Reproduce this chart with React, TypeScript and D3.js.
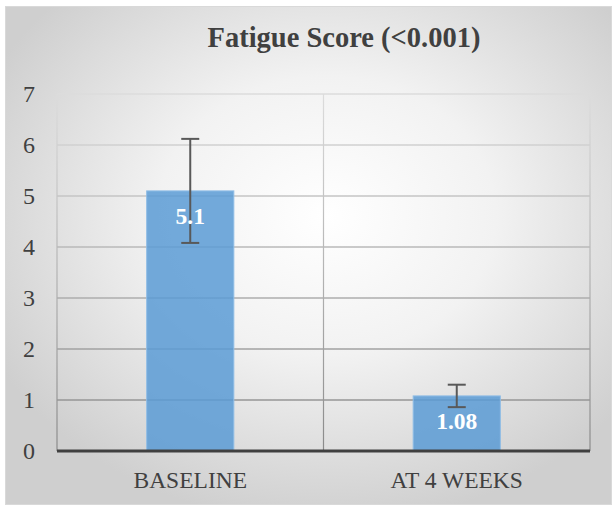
import React from "react";
import * as d3 from "d3";

const categories = ["BASELINE", "AT 4 WEEKS"];
const values = [5.1, 1.08];
const errors = [1.02, 0.22];
const valueLabels = ["5.1", "1.08"];
const yTicks = [0, 1, 2, 3, 4, 5, 6, 7];
const title = "Fatigue Score (<0.001)";

const W = 614;
const H = 506;
const M = { left: 57, right: 590, top: 94, bottom: 451 };
const font = "Liberation Serif, serif";

export default function App() {
  const x = d3.scaleBand<string>().domain(categories).range([M.left, M.right]).paddingInner(0).paddingOuter(0);
  const y = d3.scaleLinear().domain([0, 7]).range([M.bottom, M.top]);
  const bw = x.bandwidth() * 0.327;
  const ts = { fontFamily: font };

  return (
    <svg width={W} height={H} style={{ position: "absolute", left: 0, top: 0 }}>
      <defs>
        <radialGradient id="bg" cx="0.53" cy="0.42" r="0.62">
          <stop offset="0" stopColor="#ffffff" />
          <stop offset="0.45" stopColor="#f2f2f2" />
          <stop offset="1" stopColor="#cfcfcf" />
        </radialGradient>
        <linearGradient id="grid" gradientUnits="userSpaceOnUse" x1="0" y1={M.top} x2="0" y2={M.bottom}>
          <stop offset="0" stopColor="#dcdcdc" />
          <stop offset="1" stopColor="#8a8a8a" />
        </linearGradient>
      </defs>
      <rect x={0} y={0} width={W} height={H} fill="#ffffff" />
      <rect x={5.5} y={6.5} width={606} height={498} fill="url(#bg)" stroke="#d9d9d9" strokeWidth={1} />
      <text x={344} y={47} textAnchor="middle" fontSize={28.5} fontWeight="bold" fill="#404040" style={ts}>
        {title}
      </text>
      {yTicks.filter((t) => t > 0).map((t) => (
        <line key={t} x1={M.left} x2={M.right} y1={y(t)} y2={y(t)} stroke="url(#grid)" strokeWidth={1.5} />
      ))}
      {[M.left, (x(categories[1]) as number), M.right].map((xv, i) => (
        <line key={i} x1={xv} x2={xv} y1={M.top} y2={M.bottom} stroke="url(#grid)" strokeWidth={1.2} />
      ))}
      {categories.map((c, i) => {
        const cx = (x(c) as number) + x.bandwidth() / 2;
        return (
          <rect
            key={c}
            x={cx - bw / 2}
            y={y(values[i])}
            width={bw}
            height={y(0) - y(values[i])}
            fill="#5b9bd5"
            fillOpacity={0.85}
            stroke="#8fbde6"
            strokeWidth={1}
          />
        );
      })}
      <line x1={M.left} x2={M.right} y1={y(0)} y2={y(0)} stroke="#404040" strokeWidth={3} />
      {categories.map((c, i) => {
        const cx = (x(c) as number) + x.bandwidth() / 2;
        const t = y(values[i] + errors[i]);
        const b = y(values[i] - errors[i]);
        return (
          <g key={c} stroke="#595959" strokeWidth={2}>
            <line x1={cx} x2={cx} y1={t} y2={b} />
            <line x1={cx - 9} x2={cx + 9} y1={t} y2={t} />
            <line x1={cx - 9} x2={cx + 9} y1={b} y2={b} />
          </g>
        );
      })}
      {categories.map((c, i) => {
        const cx = (x(c) as number) + x.bandwidth() / 2;
        return (
          <text key={c} x={cx} y={y(values[i]) + 33.5} textAnchor="middle" fontSize={23.5} fontWeight="bold" fill="#ffffff" style={ts}>
            {valueLabels[i]}
          </text>
        );
      })}
      {yTicks.map((t) => (
        <text key={t} x={29} y={y(t) + 8} textAnchor="middle" fontSize={24} fill="#404040" style={ts}>
          {t}
        </text>
      ))}
      {categories.map((c) => (
        <text key={c} x={(x(c) as number) + x.bandwidth() / 2} y={488} textAnchor="middle" fontSize={23.5} fill="#404040" style={ts}>
          {c}
        </text>
      ))}
    </svg>
  );
}
